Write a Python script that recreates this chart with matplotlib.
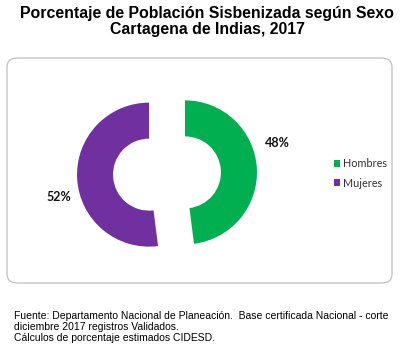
import matplotlib
matplotlib.use("Agg")
import matplotlib.pyplot as plt
from matplotlib.patches import FancyBboxPatch

categories = ["Hombres", "Mujeres"]
values = [48, 52]
colors = ["#00B050", "#7030A0"]
title = "Porcentaje de Población Sisbenizada según Sexo\nCartagena de Indias, 2017"
footer = ("Fuente: Departamento Nacional de Planeación.  Base certificada Nacional - corte\n"
          "diciembre 2017 registros Validados.\n"
          "Cálculos de porcentaje estimados CIDESD.")

W, H = 417, 353
fig = plt.figure(figsize=(W / 100, H / 100), dpi=100)
fig.patch.set_facecolor("white")

# chart box
box = FancyBboxPatch((7 / W, (H - 283) / H), 385 / W, 225 / H,
                     boxstyle="round,pad=0,rounding_size=0.025",
                     transform=fig.transFigure, facecolor="white",
                     edgecolor="#BFBFBF", linewidth=0.9, zorder=-5)
fig.patches.append(box)

fig.text(0.497, 1 - 6 / H, title, ha="center", va="top", fontsize=11.4,
         fontweight="bold", family="Liberation Sans", linespacing=1.1)

fig.text(14 / W, 1 - 311 / H, footer, ha="left", va="top", fontsize=7.5,
         family="Liberation Sans", linespacing=1.15)

# pie axes: center (167,173.5) px from top, radius 72 px
cx, cy = 167, 173.5
size = 200
ax = fig.add_axes([(cx - size / 2) / W, (H - cy - size / 2) / H, size / W, size / H])
ax.set_zorder(2)
lim = (size / 2) / 72
wedges, _ = ax.pie(values, colors=colors, startangle=90, counterclock=False,
                   explode=[0.25, 0.25], radius=1,
                   wedgeprops=dict(width=0.5, linewidth=0))
ax.set_xlim(-lim, lim)
ax.set_ylim(-lim, lim)
ax.set_aspect("equal")
ax.axis("off")

label_pos = [(1.53, 0.42), (-1.5, -0.32)]
for v, (x, y) in zip(values, label_pos):
    ax.text(x, y, f"{v}%", ha="center", va="center", fontsize=9,
            fontweight="bold", family="Lato", color="#111111")

leg = fig.legend(wedges, categories, loc="center left",
                 bbox_to_anchor=(324 / W, 1 - 173.5 / H), frameon=False,
                 prop=dict(family="Lato", size=7.8), handlelength=0.6,
                 handleheight=0.6, handletextpad=0.3, labelspacing=0.75)
for t in leg.get_texts():
    t.set_color("#333333")

fig.savefig("out.png", dpi=100, facecolor="white")
